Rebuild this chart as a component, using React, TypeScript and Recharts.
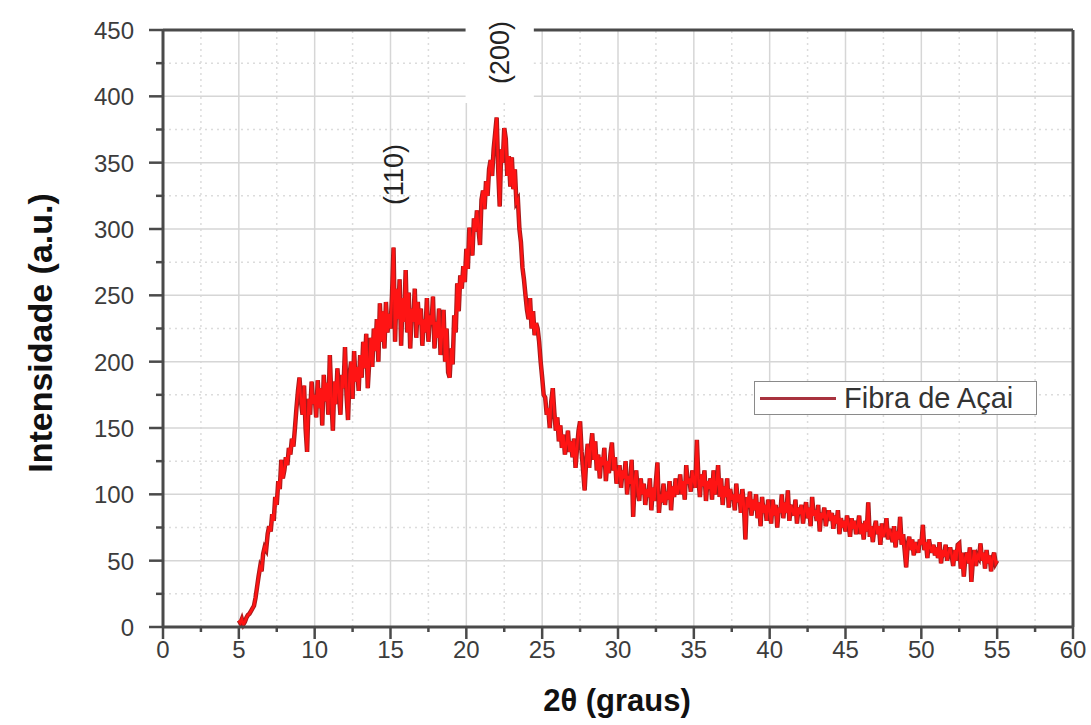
import React from 'react';
import { LineChart, Line, XAxis, YAxis, ReferenceLine, ReferenceDot, Legend } from 'recharts';

// 2θ sampling of the diffractogram
const startAngle = 5;
const angleStep = 0.1;

// intensity (a.u.), 0.1° apart
const intensity5to15 = [
  5, 3, 6, 2, 4, 7, 9, 10, 12, 14,
  16, 22, 30, 38, 45, 42, 55, 60, 58, 70,
  76, 72, 85, 80, 98, 92, 110, 104, 126, 112,
  118, 128, 122, 135, 130, 142, 136, 150, 165, 178,
  188, 170, 160, 182, 150, 132, 172, 160, 185, 168,
  175, 158, 186, 165, 180, 152, 190, 170, 184, 160,
  205, 172, 148, 185, 168, 195, 176, 160, 190, 180,
  211, 175, 156, 190, 200, 172, 208, 185, 196, 178,
  205, 188, 215, 195, 221, 180, 200, 218, 196, 225,
  208, 232, 200, 244, 215, 238, 210, 245, 222, 236,
];
const intensity15to25 = [
  225, 250, 286, 215, 255, 232, 262, 212, 248, 230,
  269, 222, 252, 210, 240, 230, 255, 218, 245, 228,
  240, 212, 232, 222, 248, 215, 235, 228, 249, 210,
  230, 218, 240, 205, 222, 239, 200, 225, 192, 188,
  210, 198, 235, 222, 259, 238, 265, 255, 272, 260,
  285, 270, 301, 292, 280, 308, 298, 314, 300, 288,
  322, 329, 315, 336, 325, 345, 352, 340, 360, 372,
  384, 345, 317, 360, 350, 376, 368, 340, 355, 332,
  354, 330, 345, 320, 322, 300, 290, 271, 262, 250,
  239, 232, 248, 225, 238, 220, 229, 225, 215, 200,
];
const intensity25to35 = [
  188, 175, 173, 160, 165, 150, 170, 180, 162, 148,
  158, 140, 152, 135, 145, 130, 138, 148, 132, 140,
  128, 142, 120, 135, 148, 155, 132, 118, 103, 125,
  138, 120, 135, 146, 126, 140, 118, 130, 112, 128,
  122, 135, 110, 125, 116, 130, 139, 118, 128, 108,
  116, 122, 105, 118, 112, 125, 100, 114, 108, 126,
  83, 110, 118, 102, 95, 112, 100, 108, 92, 104,
  98, 112, 88, 105, 95, 110, 124, 86, 100, 94,
  108, 92, 102, 96, 110, 88, 106, 98, 112, 100,
  104, 115, 100, 110, 96, 122, 108, 112, 102, 118,
];
const intensity35to45 = [
  110, 105, 141, 112, 98, 115, 106, 118, 95, 110,
  104, 112, 96, 118, 100, 108, 122, 98, 112, 92,
  106, 98, 112, 90, 104, 96, 100, 88, 108, 94,
  100, 86, 104, 92, 66, 98, 90, 102, 84, 96,
  88, 100, 82, 94, 76, 98, 86, 92, 80, 96,
  88, 78, 96, 84, 92, 75, 90, 86, 100, 82,
  94, 86, 103, 80, 92, 88, 84, 96, 78, 90,
  85, 92, 78, 88, 94, 82, 90, 76, 98, 84,
  88, 80, 92, 72, 86, 82, 90, 76, 84, 88,
  80, 86, 74, 84, 78, 88, 70, 82, 75, 80,
];
const intensity45to55 = [
  72, 84, 78, 68, 82, 74, 80, 70, 76, 84,
  70, 78, 66, 80, 72, 94, 68, 76, 64, 74,
  80, 70, 76, 62, 78, 68, 72, 82, 66, 74,
  70, 64, 76, 60, 72, 66, 83, 62, 70, 58,
  45, 62, 68, 58, 66, 54, 64, 60, 56, 66,
  62, 77, 58, 64, 52, 66, 60, 56, 62, 54,
  60, 52, 64, 48, 58, 53, 62, 50, 56, 60,
  54, 46, 58, 50, 62, 63, 44, 56, 38, 52,
  56, 48, 60, 34, 50, 58, 46, 54, 52, 63,
  50, 56, 44, 58, 48, 54, 42, 52, 56, 48,
  50,
];

const xTicks = [0, 2.5, 5, 7.5, 10, 12.5, 15, 17.5, 20, 22.5, 25, 27.5, 30, 32.5, 35, 37.5, 40, 42.5, 45, 47.5, 50, 52.5, 55, 57.5, 60];
const yTicks = [0, 25, 50, 75, 100, 125, 150, 175, 200, 225, 250, 275, 300, 325, 350, 375, 400, 425, 450];

const seriesName = 'Fibra de Açai';
const peakLabels = [
  { text: '(110)', angle: 15.2, y: 341 },
  { text: '(200)', angle: 22.2, y: 433 },
];

const data = [...intensity5to15, ...intensity15to25, ...intensity25to35, ...intensity35to45, ...intensity45to55].map(
  (v, i) => ({ angle: +(startAngle + i * angleStep).toFixed(1), intensity: v })
);

const FONT = '"Liberation Sans", Arial, sans-serif';
const AXIS = '#4a4a4a';
const GAP_FROM = 19.95;
const GAP_TO = 24.45;

const XTick = (props: any) => {
  const { x, y, payload } = props;
  const major = payload.value % 5 === 0;
  return (
    <g>
      <line x1={x} x2={x} y1={y} y2={y + (major ? 12 : 5)} stroke={AXIS} strokeWidth={2.5} />
      {major && (
        <text x={x} y={y + 31} textAnchor="middle" fontSize={24} fill="#3c3c3c" fontFamily={FONT}>
          {payload.value}
        </text>
      )}
    </g>
  );
};

const YTick = (props: any) => {
  const { x, y, payload } = props;
  const major = payload.value % 50 === 0;
  return (
    <g>
      <line x1={x - (major ? 14 : 7)} x2={x} y1={y} y2={y} stroke={AXIS} strokeWidth={2.5} />
      {major && (
        <text x={x - 29} y={y + 9} textAnchor="end" fontSize={24} fill="#3c3c3c" fontFamily={FONT}>
          {payload.value}
        </text>
      )}
    </g>
  );
};

const LegendBox = () => (
  <div
    style={{
      width: 281,
      height: 32,
      border: '1.5px solid #8a8a8a',
      background: '#fff',
      display: 'flex',
      alignItems: 'center',
      fontFamily: FONT,
    }}
  >
    <div style={{ width: 76, height: 3, background: '#a8323e', marginLeft: 5, marginRight: 8 }} />
    <span style={{ fontSize: 29, color: '#333', lineHeight: '32px' }}>{seriesName}</span>
  </div>
);

const PeakText = (text: string) => (props: any) => {
  const { cx, cy } = props;
  return (
    <text
      x={cx}
      y={cy}
      transform={`rotate(-90, ${cx}, ${cy})`}
      textAnchor="middle"
      dominantBaseline="central"
      fontSize={27}
      fill="#222"
      fontFamily={FONT}
    >
      {text}
    </text>
  );
};

export default function App() {
  const splitY = (y: number) => y >= 400;
  return (
    <div style={{ position: 'absolute', left: 0, top: 0, background: '#fff' }}>
      <LineChart width={1091} height={725} data={data} margin={{ top: 30, right: 18, bottom: 0, left: 0 }}>
        {/* minor grid */}
        {xTicks.filter((t) => t % 5 !== 0).map((t) => (
          <ReferenceLine
            key={'mx' + t}
            segment={[{ x: t, y: 0 }, { x: t, y: t === 22.5 ? 395 : 450 }]}
            stroke="#dcdcdc"
            strokeDasharray="2 4"
            strokeWidth={1.5}
          />
        ))}
        {yTicks.filter((t) => t % 50 !== 0).map((t) =>
          splitY(t) ? (
            [
              <ReferenceLine key={'my' + t + 'a'} segment={[{ x: 0, y: t }, { x: GAP_FROM, y: t }]} stroke="#dcdcdc" strokeDasharray="2 4" strokeWidth={1.5} />,
              <ReferenceLine key={'my' + t + 'b'} segment={[{ x: GAP_TO, y: t }, { x: 60, y: t }]} stroke="#dcdcdc" strokeDasharray="2 4" strokeWidth={1.5} />,
            ]
          ) : (
            <ReferenceLine key={'my' + t} y={t} stroke="#dcdcdc" strokeDasharray="2 4" strokeWidth={1.5} />
          )
        )}
        {/* major grid */}
        {xTicks.filter((t) => t % 5 === 0 && t > 0 && t < 60).map((t) => (
          <ReferenceLine
            key={'Mx' + t}
            segment={[{ x: t, y: 0 }, { x: t, y: t === 20 ? 395 : 450 }]}
            stroke="#d6d6d6"
            strokeWidth={1.5}
          />
        ))}
        {yTicks.filter((t) => t % 50 === 0 && t > 0 && t < 450).map((t) =>
          splitY(t) ? (
            [
              <ReferenceLine key={'My' + t + 'a'} segment={[{ x: 0, y: t }, { x: GAP_FROM, y: t }]} stroke="#d6d6d6" strokeWidth={1.5} />,
              <ReferenceLine key={'My' + t + 'b'} segment={[{ x: GAP_TO, y: t }, { x: 60, y: t }]} stroke="#d6d6d6" strokeWidth={1.5} />,
            ]
          ) : (
            <ReferenceLine key={'My' + t} y={t} stroke="#d6d6d6" strokeWidth={1.5} />
          )
        )}
        {/* frame: top (with gap for label) and right */}
        <ReferenceLine segment={[{ x: 0, y: 450 }, { x: GAP_FROM, y: 450 }]} stroke={AXIS} strokeWidth={3} />
        <ReferenceLine segment={[{ x: GAP_TO, y: 450 }, { x: 60, y: 450 }]} stroke={AXIS} strokeWidth={3} />
        <ReferenceLine x={60} stroke={AXIS} strokeWidth={3} />

        <XAxis
          dataKey="angle"
          type="number"
          domain={[0, 60]}
          ticks={xTicks}
          interval={0}
          height={98}
          tickSize={0}
          tickMargin={0}
          tickLine={false}
          tick={<XTick />}
          axisLine={{ stroke: AXIS, strokeWidth: 3 }}
          label={(p: any) => (
            <text x={617} y={711} textAnchor="middle" fontSize={31} fontWeight="bold" fill="#111" fontFamily={FONT}>
              2θ (graus)
            </text>
          )}
        />
        <YAxis
          type="number"
          domain={[0, 450]}
          ticks={yTicks}
          interval={0}
          width={163}
          tickSize={0}
          tickMargin={0}
          tickLine={false}
          tick={<YTick />}
          axisLine={{ stroke: AXIS, strokeWidth: 3 }}
          label={(p: any) => (
            <text
              x={40}
              y={333}
              transform="rotate(-90, 40, 333)"
              textAnchor="middle"
              dominantBaseline="central"
              fontSize={34}
              fontWeight="bold"
              fill="#111"
              fontFamily={FONT}
            >
              Intensidade (a.u.)
            </text>
          )}
        />
        <Legend
          layout="horizontal"
          verticalAlign="middle"
          align="center"
          content={<LegendBox />}
          wrapperStyle={{ left: 754, top: 381, width: 284 }}
        />
        <Line
          dataKey="intensity"
          type="linear"
          stroke="#a51c1c"
          strokeWidth={4.5}
          dot={false}
          legendType="none"
          isAnimationActive={false}
        />
        <Line
          dataKey="intensity"
          name={seriesName}
          type="linear"
          stroke="#ff1414"
          strokeWidth={2.5}
          dot={false}
          isAnimationActive={false}
        />
        {peakLabels.map((p) => (
          <ReferenceDot key={p.text} x={p.angle} y={p.y} r={0} ifOverflow="visible" shape={PeakText(p.text)} />
        ))}
      </LineChart>
    </div>
  );
}
